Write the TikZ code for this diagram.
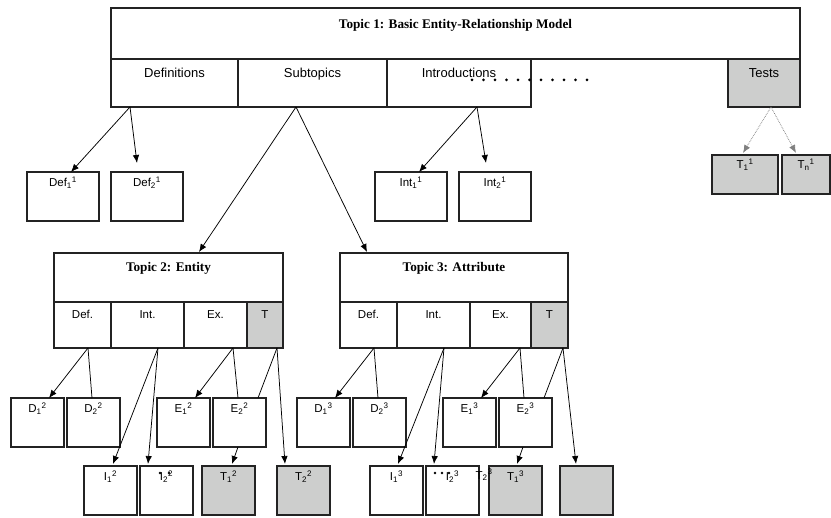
\documentclass[tikz,border=0pt]{standalone}
\usepackage{fontspec}
\setmainfont{Liberation Sans}
\newfontfamily\titlefont{Liberation Serif}
\usetikzlibrary{arrows.meta}
\definecolor{boxgray}{RGB}{205,206,205}
\definecolor{boxline}{RGB}{35,35,35}
\newcommand{\lbl}[3]{#1\textsubscript{#2}\textsuperscript{#3}}
\newcommand{\sizetitle}{\titlefont\bfseries\fontsize{13.2}{15}\selectfont}
\newcommand{\sizetop}{\fontsize{13}{15}\selectfont}
\newcommand{\sizesub}{\fontsize{11.5}{13}\selectfont}
\newcommand{\sizeleaf}{\fontsize{11.5}{13}\selectfont}
\tikzset{
    common/.style={anchor=north west, draw=boxline, line width=1.2pt, inner sep=0pt, outer sep=0pt},
    toptitle/.style={common, minimum width=#1, text height=21pt, text depth=30pt, font=\sizetitle},
    topcell/.style={common, minimum width=#1, text height=19pt, text depth=29pt, font=\sizetop},
    subtitle/.style={common, minimum width=#1, text height=19pt, text depth=30pt, font=\sizetitle},
    subcell/.style={common, minimum width=#1, text height=17pt, text depth=29pt, font=\sizesub},
    leaf/.style={common, minimum width=#1, text height=15pt, text depth=34pt, font=\sizeleaf},
    testleaf/.style={common, minimum width=#1, text height=14pt, text depth=25pt, font=\sizeleaf, fill=boxgray},
    shaded/.style={fill=boxgray},
    link/.style={line width=0.75pt},
    testlink/.style={link, densely dotted, gray},
    blob/.style={fill=black}
}

\begin{document}
\begin{tikzpicture}[x=1pt, y=-1pt, >={Latex[length=8pt,width=6.5pt]}]
    \useasboundingbox (0,0) rectangle (831,518);

    \node[toptitle=689pt] (topic1) at (111,8) {Topic 1: Basic Entity-Relationship Model};
    \node[topcell=127pt] (defs) at (111,59) {Definitions};
    \node[topcell=149pt] (subs) at (238,59) {Subtopics};
    \node[topcell=144pt] (intros) at (387,59) {Introductions};
    \node[topcell=72pt, shaded] (tests) at (728,59) {Tests};
    \foreach \i in {0,...,10}
        \fill[blob] (472+11.5*\i, 80) circle (1.5pt);

    \node[leaf=72pt] (def1) at (27,172) {\lbl{Def}{1}{1}};
    \node[leaf=72pt] (def2) at (111,172) {\lbl{Def}{2}{1}};
    \node[leaf=72pt] (int1) at (375,172) {\lbl{Int}{1}{1}};
    \node[leaf=72pt] (int2) at (459,172) {\lbl{Int}{2}{1}};
    \node[testleaf=66pt] (test1) at (712,155) {\lbl{T}{1}{1}};
    \node[testleaf=48pt] (testn) at (782,155) {\lbl{T}{n}{1}};

    \node[subtitle=229pt] (topic2) at (54,253) {Topic 2: Entity};
    \node[subcell=57pt] (t2def) at (54,302) {Def.};
    \node[subcell=73pt] (t2int) at (111,302) {Int.};
    \node[subcell=63pt] (t2ex) at (184,302) {Ex.};
    \node[subcell=36pt, shaded] (t2t) at (247,302) {T};

    \node[subtitle=228pt] (topic3) at (340,253) {Topic 3: Attribute};
    \node[subcell=57pt] (t3def) at (340,302) {Def.};
    \node[subcell=73pt] (t3int) at (397,302) {Int.};
    \node[subcell=61pt] (t3ex) at (470,302) {Ex.};
    \node[subcell=37pt, shaded] (t3t) at (531,302) {T};

    \node[leaf=53pt] (d12) at (11,398) {\lbl{D}{1}{2}};
    \node[leaf=53pt] (d22) at (67,398) {\lbl{D}{2}{2}};
    \node[leaf=53pt] (e12) at (157,398) {\lbl{E}{1}{2}};
    \node[leaf=53pt] (e22) at (213,398) {\lbl{E}{2}{2}};
    \node[leaf=53pt] (d13) at (297,398) {\lbl{D}{1}{3}};
    \node[leaf=53pt] (d23) at (353,398) {\lbl{D}{2}{3}};
    \node[leaf=53pt] (e13) at (443,398) {\lbl{E}{1}{3}};
    \node[leaf=53pt] (e23) at (499,398) {\lbl{E}{2}{3}};

    \node[leaf=53pt] (i12) at (84,466) {\lbl{I}{1}{2}};
    \node[leaf=53pt] (i22) at (140,466) {\lbl{I}{2}{2}};
    \node[leaf=53pt, shaded] (t12) at (202,466) {\lbl{T}{1}{2}};
    \node[leaf=53pt, shaded] (t22) at (277,466) {\lbl{T}{2}{2}};
    \node[leaf=53pt] (i13) at (370,466) {\lbl{I}{1}{3}};
    \node[leaf=53pt] (i23) at (426,466) {\lbl{I}{2}{3}};
    \node[leaf=53pt, shaded] (t13) at (489,466) {\lbl{T}{1}{3}};
    \node[leaf=53pt, shaded] (blank) at (560,466) {};

    \node[font=\sizeleaf, inner sep=0pt] (t23) at (484,475) {\lbl{T}{2}{3}};
    \fill[blob] (160,473) circle (1.3pt) (169,473) circle (1.3pt);
    \fill[blob] (435,473) circle (1.3pt) (442,473) circle (1.3pt) (449,473) circle (1.3pt);

    \draw[link, ->] ([xshift=19pt]defs.south west) -- ([xshift=44pt]def1.north west);
    \draw[link, ->] ([xshift=19pt]defs.south west) -- ([xshift=26pt, yshift=9pt]def2.north west);
    \draw[link, ->] ([xshift=58pt]subs.south west) -- ([xshift=145pt, yshift=1pt]topic2.north west);
    \draw[link, ->] ([xshift=58pt]subs.south west) -- ([xshift=27pt, yshift=1pt]topic3.north west);
    \draw[link, ->] ([xshift=90pt]intros.south west) -- ([xshift=44pt]int1.north west);
    \draw[link, ->] ([xshift=90pt]intros.south west) -- ([xshift=27pt, yshift=9pt]int2.north west);
    \draw[testlink, ->] ([xshift=43pt]tests.south west) -- ([xshift=31pt, yshift=2pt]test1.north west);
    \draw[testlink, ->] ([xshift=43pt]tests.south west) -- ([xshift=14pt, yshift=2pt]testn.north west);

    \draw[link, ->] ([xshift=34pt]t2def.south west) -- ([xshift=38pt]d12.north west);
    \draw[link] ([xshift=34pt]t2def.south west) -- ([xshift=25pt]d22.north west);
    \draw[link, ->] ([xshift=47pt]t2int.south west) -- ([xshift=29pt, yshift=2pt]i12.north west);
    \draw[link, ->] ([xshift=47pt]t2int.south west) -- ([xshift=8pt, yshift=2pt]i22.north west);
    \draw[link, ->] ([xshift=49pt]t2ex.south west) -- ([xshift=38pt]e12.north west);
    \draw[link] ([xshift=49pt]t2ex.south west) -- ([xshift=25pt]e22.north west);
    \draw[link] ([xshift=30pt]t2t.south west) -- ([xshift=45pt]e22.north west);
    \draw[link, ->] ([xshift=30pt]t2t.south west) -- ([xshift=8pt, yshift=2pt]t22.north west);
    \draw[link, ->] ([xshift=25pt]e22.south west) -- ([xshift=30pt, yshift=2pt]t12.north west);

    \draw[link, ->] ([xshift=34pt]t3def.south west) -- ([xshift=38pt]d13.north west);
    \draw[link] ([xshift=34pt]t3def.south west) -- ([xshift=25pt]d23.north west);
    \draw[link, ->] ([xshift=47pt]t3int.south west) -- ([xshift=28pt, yshift=2pt]i13.north west);
    \draw[link, ->] ([xshift=47pt]t3int.south west) -- ([xshift=8pt, yshift=2pt]i23.north west);
    \draw[link, ->] ([xshift=50pt]t3ex.south west) -- ([xshift=38pt]e13.north west);
    \draw[link] ([xshift=50pt]t3ex.south west) -- ([xshift=25pt]e23.north west);
    \draw[link] ([xshift=32pt]t3t.south west) -- ([xshift=45pt]e23.north west);
    \draw[link, ->] ([xshift=32pt]t3t.south west) -- ([xshift=16pt, yshift=2pt]blank.north west);
    \draw[link, ->] ([xshift=24pt]e23.south west) -- ([xshift=28pt, yshift=2pt]t13.north west);
\end{tikzpicture}
\end{document}
